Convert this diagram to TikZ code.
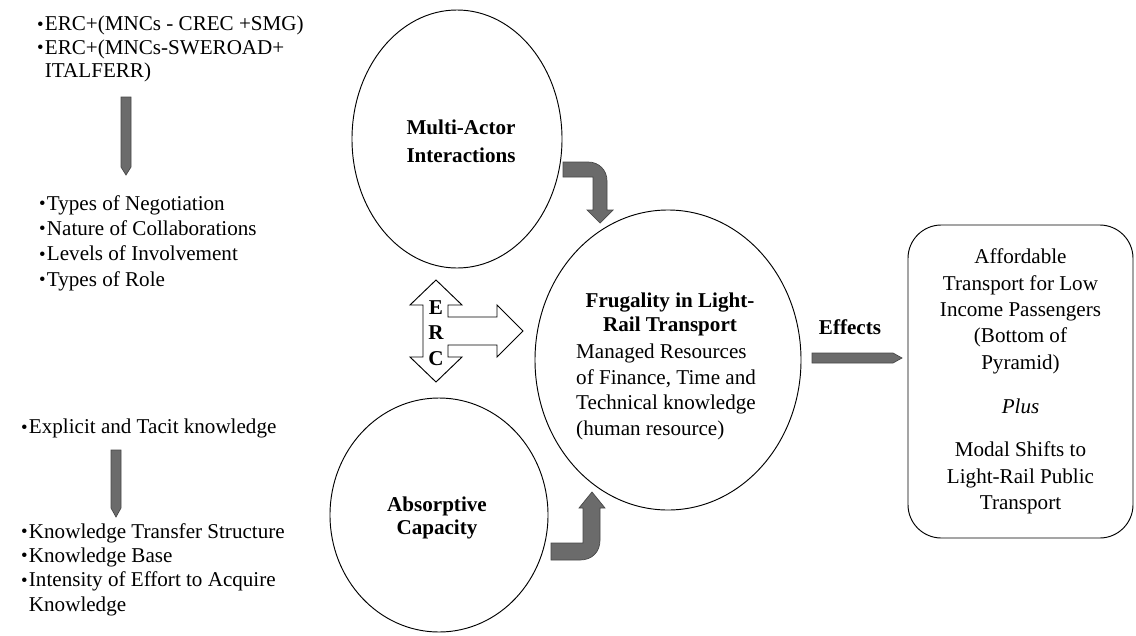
\documentclass[tikz,border=0pt]{standalone}
\usepackage{fontspec}
\setmainfont{Liberation Serif}
\usetikzlibrary{shapes.geometric}

\newcommand{\itm}{{\fontsize{16}{16}\selectfont\raisebox{0.5pt}{\textbullet}}\hspace{1pt}}

\begin{document}
\begin{tikzpicture}[x=0.03cm, y=-0.03cm,
  txt/.style={inner sep=0pt, font=\fontsize{18}{21.7}\selectfont},
  bubble/.style={draw, ellipse, line width=0.8pt, inner sep=0pt},
  block/.style={fill=black!58, draw=black!72, line width=0.6pt},
  hollow/.style={fill=white, draw=black, line width=0.8pt}]

\useasboundingbox (0,0) rectangle (1136,635);

% Actors list
\node[txt, align=left, anchor=north west, font=\fontsize{18}{20}\selectfont] (actors) at (37,16)
  {\itm ERC+(MNCs - CREC +SMG)\\ \itm ERC+(MNCs-SWEROAD+\\ \hphantom{\itm}ITALFERR)};

% Interaction list
\node[txt, align=left, anchor=north west] (interlist) at (39,195)
  {\itm Types of Negotiation\\ \itm Nature of Collaborations\\ \itm Levels of Involvement\\ \itm Types of Role};

% Knowledge lists
\node[txt, anchor=north west] (knowtype) at (21,419) {\itm Explicit and Tacit knowledge};
\node[txt, align=left, anchor=north west, font=\fontsize{18}{20.8}\selectfont] (knowlist) at (21,523)
  {\itm Knowledge Transfer Structure\\ \itm Knowledge Base\\ \itm Intensity of Effort to Acquire\\ \hphantom{\itm}Knowledge};

% Pencil arrows on the left
\filldraw[block] (121,97) -- (131,97) -- (131,167) -- (126,175) -- (121,167) -- cycle;
\filldraw[block] (111,450) -- (121,450) -- (121,508) -- (116,517) -- (111,508) -- cycle;

% Bubbles
\node[bubble, minimum width=6.3cm, minimum height=7.74cm] (actor) at (457,139) {};
\node[txt, align=center, font=\bfseries\fontsize{18}{24}\selectfont] (actortext) at (461,141) {Multi-Actor\\Interactions};
\node[bubble, minimum width=6.54cm, minimum height=7.02cm] (absorb) at (439,515) {};
\node[txt, align=center, font=\bfseries\fontsize{18}{20}\selectfont] (absorbtext) at (437,518) {Absorptive\\Capacity};
\node[bubble, minimum width=7.98cm, minimum height=9cm] (frugal) at (668,360) {};
\node[txt, align=center, anchor=north, font=\bfseries\fontsize{18}{20}\selectfont] (frugaltitle) at (670,293) {Frugality in Light-\\Rail Transport};
\node[txt, align=left, anchor=north west, font=\fontsize{18}{21.7}\selectfont] (frugalbody) at (576,344)
  {Managed Resources\\of Finance, Time and\\Technical knowledge\\(human resource)};

% Bent arrows into the middle bubble
\filldraw[block] (563,162) -- (588,162) .. controls (599,162) and (607,170) .. (607,181) -- (607,210)
  -- (613,210) -- (600,223) -- (587,210) -- (593,210) -- (593,177) -- (563,177) -- cycle;
\filldraw[block] (551,543) -- (583,543) -- (583,508) -- (579,508) -- (592,492) -- (605,508) -- (600,508)
  -- (600,540) .. controls (600,552) and (592,560) .. (580,560) -- (551,560) -- cycle;

% ERC arrow
\filldraw[hollow] (436,280) -- (462,305) -- (448,305) -- (448,317) -- (497,317) -- (497,305) -- (523,331)
  -- (497,357) -- (497,345) -- (448,345) -- (448,357) -- (462,357) -- (436,382) -- (410,357)
  -- (423,357) -- (423,305) -- (410,305) -- cycle;
\node[txt, align=center, font=\bfseries\fontsize{18}{22}\selectfont] (erc) at (436,333) {E\\R\\C};

% Effects
\node[draw, line width=0.8pt, rounded corners=1cm, minimum width=6.75cm, minimum height=9.39cm,
  align=center, inner sep=0pt, font=\fontsize{18}{22.5}\selectfont] (effectbox) at (1020.5,381.5)
  {Affordable\\Transport for Low\\Income Passengers\\(Bottom of\\Pyramid)\\[15pt]\textit{Plus}\\[15pt]Modal Shifts to\\Light-Rail Public\\Transport};
\node[txt, font=\bfseries\fontsize{18}{20}\selectfont] (effects) at (850,327) {Effects};
\filldraw[block] (812,353) -- (893,353) -- (902,358) -- (893,363) -- (812,363) -- cycle;
\end{tikzpicture}
\end{document}
